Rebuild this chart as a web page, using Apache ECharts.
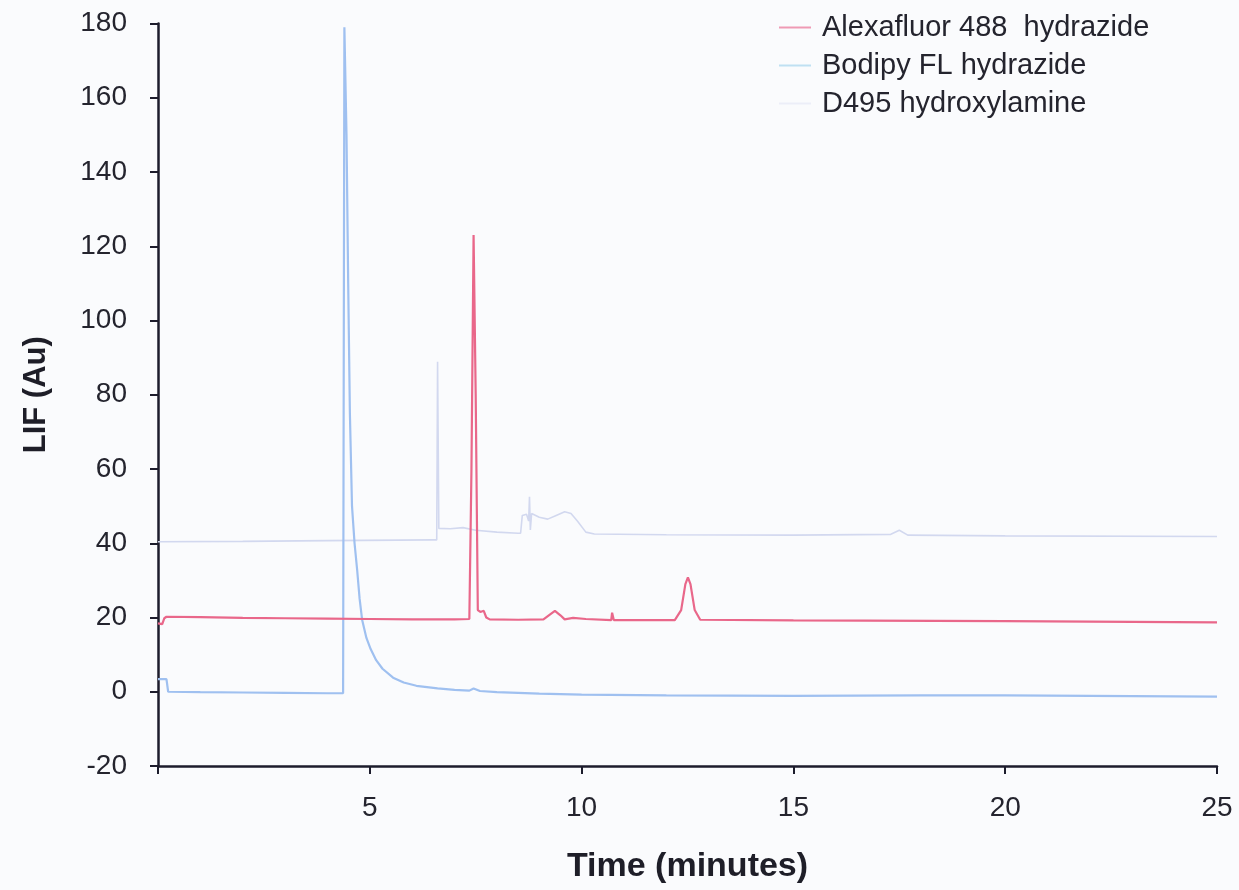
<!DOCTYPE html>
<html>
<head>
<meta charset="utf-8">
<title>LIF chromatogram</title>
<script src="https://cdn.jsdelivr.net/npm/echarts@6/dist/echarts.min.js"></script>
<style>
  html, body { margin: 0; padding: 0; background: #fafbfd; }
  #chart { width: 1239px; height: 890px; }
</style>
</head>
<body>
<div id="chart"></div>
<script>
// Trace names
const seriesNames = ['Alexafluor 488  hydrazide', 'Bodipy FL hydrazide', 'D495 hydroxylamine'];

// [time (min), LIF (Au)]
const alexafluor = [
  [0, 18.4], [0.1, 18.2], [0.15, 19.8], [0.2, 20.2], [1, 20.1], [2, 19.9], [3, 19.8],
  [4, 19.7], [5, 19.6], [6, 19.5], [7, 19.5], [7.35, 19.6], [7.4, 60], [7.45, 123],
  [7.5, 80], [7.55, 22], [7.61, 21.5], [7.69, 21.8], [7.75, 20], [7.83, 19.5],
  [8.5, 19.4], [9.1, 19.5], [9.25, 20.8], [9.37, 21.8], [9.5, 20.6], [9.6, 19.5],
  [9.8, 19.9], [10.1, 19.6], [10.7, 19.3], [10.72, 21.3], [10.76, 19.3], [12.2, 19.3],
  [12.35, 22], [12.45, 29], [12.51, 30.8], [12.57, 29], [12.67, 22], [12.8, 19.4],
  [15, 19.2], [20, 19.0], [25, 18.7]
];

const bodipy = [
  [0, 3.4], [0.2, 3.4], [0.24, 0], [1, -0.1], [2, -0.2], [3, -0.3], [4, -0.4],
  [4.37, -0.4], [4.4, 179], [4.42, 179], [4.45, 150], [4.49, 110], [4.53, 75],
  [4.58, 50], [4.64, 40], [4.7, 33], [4.76, 25], [4.82, 19.3], [4.92, 14.5],
  [5.02, 11.5], [5.15, 8.5], [5.3, 6.2], [5.55, 3.8], [5.8, 2.5], [6.1, 1.6],
  [6.6, 0.9], [7.0, 0.5], [7.35, 0.3], [7.45, 0.9], [7.6, 0.2], [8, -0.1],
  [9, -0.5], [10, -0.8], [12, -1.0], [15, -1.1], [18, -1.0], [20, -1.0], [25, -1.3]
];

const d495 = [
  [0, 40.4], [2, 40.5], [4, 40.7], [6.5, 40.9], [6.58, 40.9], [6.6, 88.9], [6.63, 44],
  [6.9, 43.9], [7.2, 44.2], [7.5, 43.5], [8.0, 43], [8.5, 42.7], [8.56, 42.7],
  [8.6, 47.5], [8.7, 47.8], [8.75, 46], [8.77, 52.5], [8.79, 43.6], [8.82, 48],
  [9.0, 47], [9.2, 46.5], [9.4, 47.5], [9.6, 48.5], [9.75, 48], [9.9, 46],
  [10.1, 43], [10.3, 42.5], [12, 42.3], [15, 42.2], [17.3, 42.4], [17.5, 43.5],
  [17.7, 42.2], [20, 42], [25, 41.8]
];

// Axis settings
const xTicks = { min: 0, max: 25, interval: 5 };
const yTicks = { min: -20, max: 180, interval: 20 };

const colors = ['#e9678a', '#9fc0f0', '#d2d8ef'];
const legendColors = ['#ef9ab4', '#bfe0f2', '#eceef8'];

const font = '"Liberation Sans", Arial, sans-serif';
const axisColor = '#1c1c2c';
const textColor = '#24242e';

const chart = echarts.init(document.getElementById('chart'));

const datasets = [alexafluor, bodipy, d495];
const widths = [2.2, 2.2, 1.6];

chart.setOption({
  backgroundColor: '#fafbfd',
  animation: false,
  grid: { left: 158, right: 22, top: 23.5, bottom: 124 },
  legend: {
    orient: 'vertical',
    left: 774,
    top: 8,
    itemWidth: 32,
    itemHeight: 2,
    itemGap: 9,
    icon: 'rect',
    textStyle: { fontFamily: font, fontSize: 29, color: textColor, lineHeight: 29, padding: [0, 0, 0, 6] },
    data: seriesNames.map((n, i) => ({ name: n, itemStyle: { color: legendColors[i] } }))
  },
  xAxis: {
    type: 'value',
    min: xTicks.min, max: xTicks.max, interval: xTicks.interval,
    name: 'Time (minutes)',
    nameLocation: 'middle',
    nameGap: 84,
    nameTextStyle: { fontFamily: font, fontSize: 34, fontWeight: 'bold', color: '#1e1e28' },
    axisLine: { show: true, onZero: false, lineStyle: { color: axisColor, width: 2.5 } },
    axisTick: { show: true, length: 8, lineStyle: { color: axisColor, width: 2 } },
    axisLabel: {
      margin: 28, fontFamily: font, fontSize: 28, color: textColor,
      formatter: v => (v === 0 ? '' : String(v))
    },
    splitLine: { show: false }
  },
  yAxis: {
    type: 'value',
    min: yTicks.min, max: yTicks.max, interval: yTicks.interval,
    name: 'LIF (Au)',
    nameLocation: 'middle',
    nameGap: 106,
    nameRotate: 90,
    nameTextStyle: { fontFamily: font, fontSize: 31, fontWeight: 'bold', color: '#1e1e28' },
    axisLine: { show: true, onZero: false, lineStyle: { color: axisColor, width: 2.5 } },
    axisTick: { show: true, length: 8, lineStyle: { color: axisColor, width: 2 } },
    axisLabel: { margin: 31, fontFamily: font, fontSize: 28, color: textColor },
    splitLine: { show: false }
  },
  series: seriesNames.map((n, i) => ({
    name: n,
    type: 'line',
    data: datasets[i],
    showSymbol: false,
    symbol: 'none',
    z: 3 - i,
    lineStyle: { color: colors[i], width: widths[i] },
    itemStyle: { color: colors[i] }
  }))
});
</script>
</body>
</html>
